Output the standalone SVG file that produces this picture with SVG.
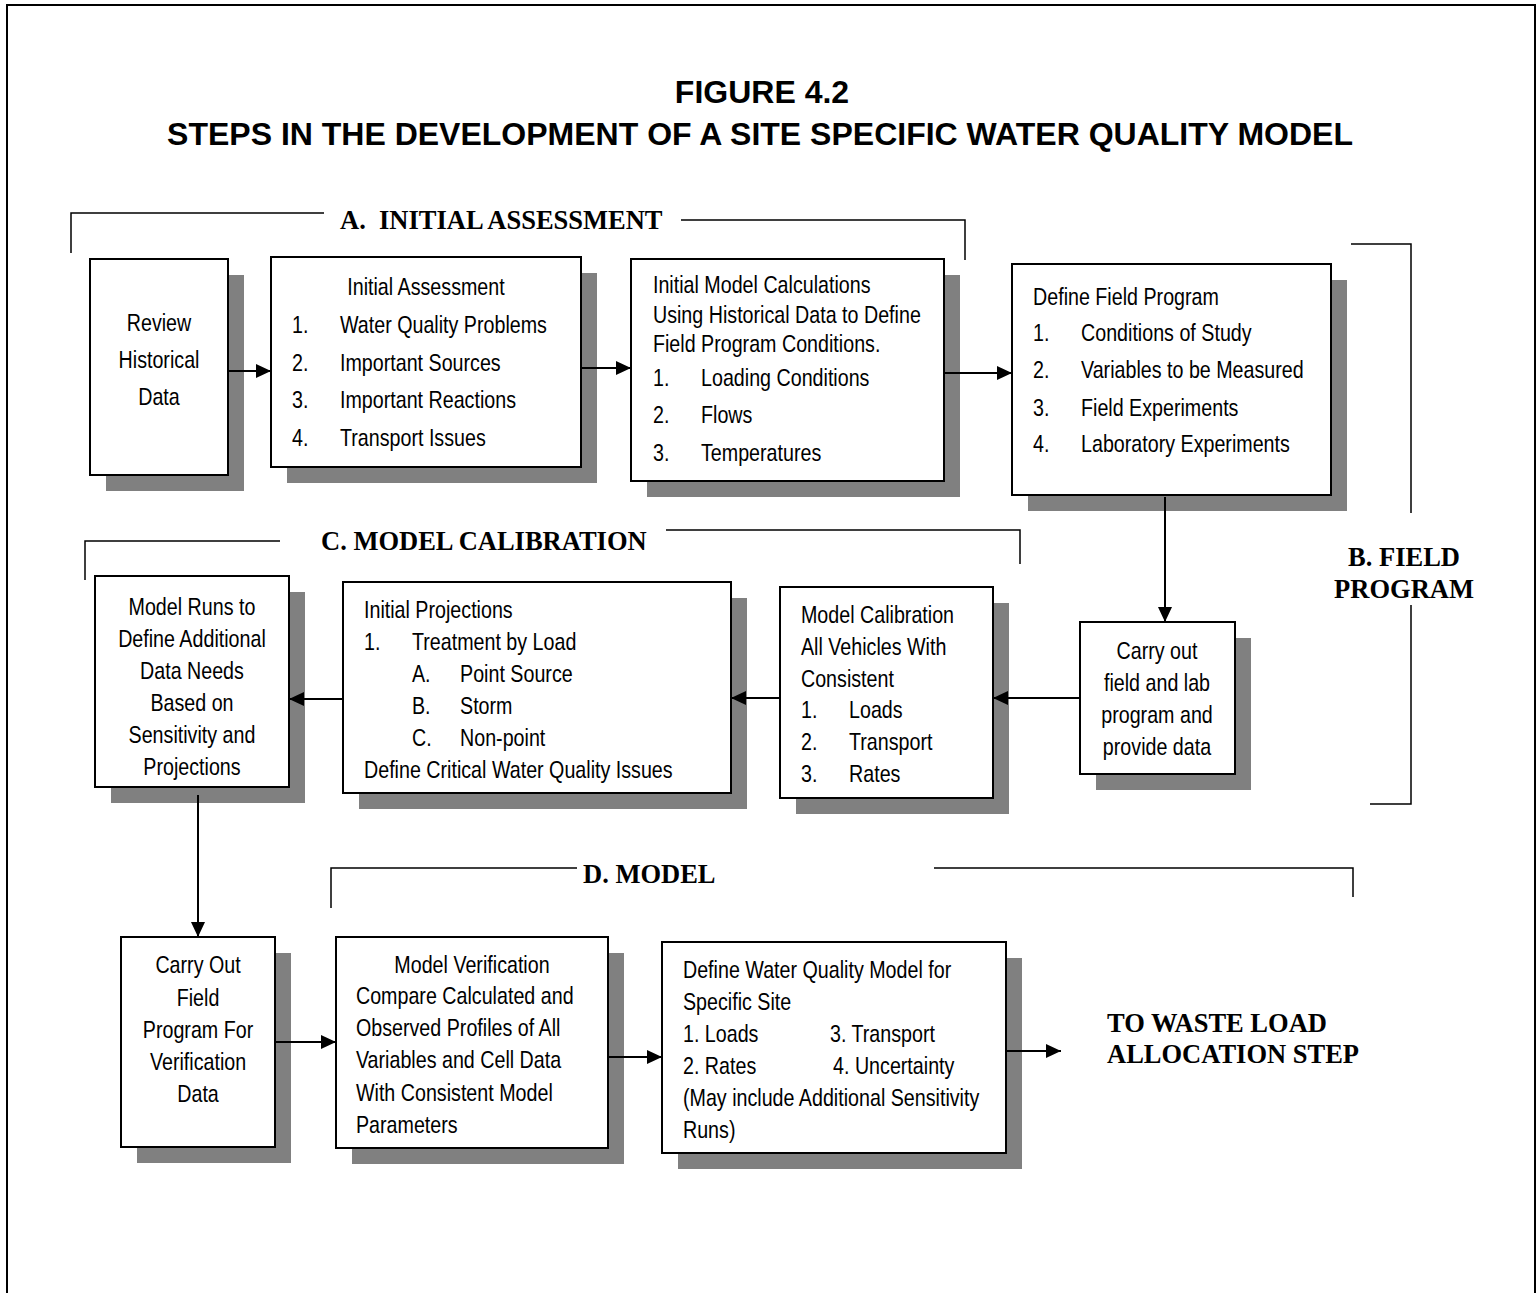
<svg xmlns="http://www.w3.org/2000/svg" width="1540" height="1293" viewBox="0 0 1540 1293">
<style>
.box{fill:#fff;stroke:#000;stroke-width:2}
.sh{fill:#808080}
.t{font-family:"Liberation Sans",Arial,sans-serif;font-size:24px;fill:#000}
.c{text-anchor:middle}
.sec{font-family:"Liberation Serif","Times New Roman",serif;font-weight:bold;font-size:26.5px;fill:#000}
.title{font-family:"Liberation Sans",Arial,sans-serif;font-weight:bold;font-size:32px;text-anchor:middle;fill:#000}
.br{fill:none;stroke:#000;stroke-width:1.5}
.conn{fill:none;stroke:#000;stroke-width:2;marker-end:url(#arr)}
</style>
<defs>
<marker id="arr" viewBox="0 0 15 14" refX="15" refY="7" markerWidth="15" markerHeight="14" markerUnits="userSpaceOnUse" orient="auto">
<path d="M0,0 L15,7 L0,14 Z" fill="#000"/>
</marker>
</defs>
<rect x="0" y="0" width="1540" height="1293" fill="#fff"/>
<rect x="7" y="5" width="1528" height="1300" fill="none" stroke="#000" stroke-width="2"/>
<g id="title">
<text class="title" x="762" y="103">FIGURE 4.2</text>
<text class="title" x="760" y="145">STEPS IN THE DEVELOPMENT OF A SITE SPECIFIC WATER QUALITY MODEL</text>
</g>
<g id="brackets">
<path class="br" d="M71,253 V213 H324 M681,220 H965 V260"/>
<path class="br" d="M85,580 V541 H280 M666,530 H1020 V564"/>
<path class="br" d="M331,908 V868 H577 M934,868 H1353 V897"/>
<path class="br" d="M1351,244 H1411 V513 M1411,605 V804 H1370"/>
</g>
<g id="section-labels">
<text class="sec" x="340" y="229" xml:space="preserve">A.  INITIAL ASSESSMENT</text>
<text class="sec c" x="1404" y="566">B. FIELD</text>
<text class="sec c" x="1404" y="598">PROGRAM</text>
<text class="sec" x="321" y="550">C. MODEL CALIBRATION</text>
<text class="sec" x="583" y="883">D. MODEL</text>
<text class="sec" x="1107" y="1032">TO WASTE LOAD</text>
<text class="sec" x="1107" y="1063">ALLOCATION STEP</text>
</g>
<g id="review">
<rect class="sh" x="106" y="275" width="138" height="216"/>
<rect class="box" x="90" y="259" width="138" height="216"/>
<g transform="scale(0.82,1)">
<text class="t c" x="193.9" y="331">Review</text>
<text class="t c" x="193.9" y="368">Historical</text>
<text class="t c" x="193.9" y="405">Data</text>
</g>
</g>
<g id="initial-assessment">
<rect class="sh" x="287" y="273" width="310" height="210"/>
<rect class="box" x="271" y="257" width="310" height="210"/>
<g transform="scale(0.82,1)">
<text class="t c" x="519.5" y="295">Initial Assessment</text>
<text class="t" x="356.1" y="333">1.</text><text class="t" x="414.6" y="333">Water Quality Problems</text>
<text class="t" x="356.1" y="371">2.</text><text class="t" x="414.6" y="371">Important Sources</text>
<text class="t" x="356.1" y="408">3.</text><text class="t" x="414.6" y="408">Important Reactions</text>
<text class="t" x="356.1" y="446">4.</text><text class="t" x="414.6" y="446">Transport Issues</text>
</g>
</g>
<g id="initial-model">
<rect class="sh" x="647" y="275" width="313" height="222"/>
<rect class="box" x="631" y="259" width="313" height="222"/>
<g transform="scale(0.82,1)">
<text class="t" x="796.3" y="293">Initial Model Calculations</text>
<text class="t" x="796.3" y="323">Using Historical Data to Define</text>
<text class="t" x="796.3" y="352">Field Program Conditions.</text>
<text class="t" x="796.3" y="386">1.</text><text class="t" x="854.9" y="386">Loading Conditions</text>
<text class="t" x="796.3" y="423">2.</text><text class="t" x="854.9" y="423">Flows</text>
<text class="t" x="796.3" y="461">3.</text><text class="t" x="854.9" y="461">Temperatures</text>
</g>
</g>
<g id="define-field">
<rect class="sh" x="1028" y="280" width="319" height="231"/>
<rect class="box" x="1012" y="264" width="319" height="231"/>
<g transform="scale(0.82,1)">
<text class="t" x="1259.8" y="305">Define Field Program</text>
<text class="t" x="1259.8" y="341">1.</text><text class="t" x="1318.3" y="341">Conditions of Study</text>
<text class="t" x="1259.8" y="378">2.</text><text class="t" x="1318.3" y="378">Variables to be Measured</text>
<text class="t" x="1259.8" y="416">3.</text><text class="t" x="1318.3" y="416">Field Experiments</text>
<text class="t" x="1259.8" y="452">4.</text><text class="t" x="1318.3" y="452">Laboratory Experiments</text>
</g>
</g>
<g id="carry-field-lab">
<rect class="sh" x="1096" y="638" width="155" height="152"/>
<rect class="box" x="1080" y="622" width="155" height="152"/>
<g transform="scale(0.82,1)">
<text class="t c" x="1411" y="659">Carry out</text>
<text class="t c" x="1411" y="691">field and lab</text>
<text class="t c" x="1411" y="723">program and</text>
<text class="t c" x="1411" y="755">provide data</text>
</g>
</g>
<g id="model-calibration">
<rect class="sh" x="796" y="603" width="213" height="211"/>
<rect class="box" x="780" y="587" width="213" height="211"/>
<g transform="scale(0.82,1)">
<text class="t" x="976.8" y="623">Model Calibration</text>
<text class="t" x="976.8" y="655">All Vehicles With</text>
<text class="t" x="976.8" y="687">Consistent</text>
<text class="t" x="976.8" y="718">1.</text><text class="t" x="1035.4" y="718">Loads</text>
<text class="t" x="976.8" y="750">2.</text><text class="t" x="1035.4" y="750">Transport</text>
<text class="t" x="976.8" y="782">3.</text><text class="t" x="1035.4" y="782">Rates</text>
</g>
</g>
<g id="initial-projections">
<rect class="sh" x="359" y="598" width="388" height="211"/>
<rect class="box" x="343" y="582" width="388" height="211"/>
<g transform="scale(0.82,1)">
<text class="t" x="443.9" y="618">Initial Projections</text>
<text class="t" x="443.9" y="650">1.</text><text class="t" x="502.4" y="650">Treatment by Load</text>
<text class="t" x="502.4" y="682">A.</text><text class="t" x="561" y="682">Point Source</text>
<text class="t" x="502.4" y="714">B.</text><text class="t" x="561" y="714">Storm</text>
<text class="t" x="502.4" y="746">C.</text><text class="t" x="561" y="746">Non-point</text>
<text class="t" x="443.9" y="778">Define Critical Water Quality Issues</text>
</g>
</g>
<g id="model-runs">
<rect class="sh" x="111" y="592" width="194" height="211"/>
<rect class="box" x="95" y="576" width="194" height="211"/>
<g transform="scale(0.82,1)">
<text class="t c" x="234.1" y="615">Model Runs to</text>
<text class="t c" x="234.1" y="647">Define Additional</text>
<text class="t c" x="234.1" y="679">Data Needs</text>
<text class="t c" x="234.1" y="711">Based on</text>
<text class="t c" x="234.1" y="743">Sensitivity and</text>
<text class="t c" x="234.1" y="775">Projections</text>
</g>
</g>
<g id="carry-out-verification">
<rect class="sh" x="137" y="953" width="154" height="210"/>
<rect class="box" x="121" y="937" width="154" height="210"/>
<g transform="scale(0.82,1)">
<text class="t c" x="241.5" y="973">Carry Out</text>
<text class="t c" x="241.5" y="1006">Field</text>
<text class="t c" x="241.5" y="1038">Program For</text>
<text class="t c" x="241.5" y="1070">Verification</text>
<text class="t c" x="241.5" y="1102">Data</text>
</g>
</g>
<g id="model-verification">
<rect class="sh" x="352" y="953" width="272" height="211"/>
<rect class="box" x="336" y="937" width="272" height="211"/>
<g transform="scale(0.82,1)">
<text class="t c" x="575.6" y="973">Model Verification</text>
<text class="t" x="434.1" y="1004">Compare Calculated and</text>
<text class="t" x="434.1" y="1036">Observed Profiles of All</text>
<text class="t" x="434.1" y="1068">Variables and Cell Data</text>
<text class="t" x="434.1" y="1101">With Consistent Model</text>
<text class="t" x="434.1" y="1133">Parameters</text>
</g>
</g>
<g id="define-wq-model">
<rect class="sh" x="678" y="958" width="344" height="211"/>
<rect class="box" x="662" y="942" width="344" height="211"/>
<g transform="scale(0.82,1)">
<text class="t" x="832.9" y="978">Define Water Quality Model for</text>
<text class="t" x="832.9" y="1010">Specific Site</text>
<text class="t" x="832.9" y="1042">1. Loads</text><text class="t" x="1012.2" y="1042">3. Transport</text>
<text class="t" x="832.9" y="1074">2. Rates</text><text class="t" x="1015.9" y="1074">4. Uncertainty</text>
<text class="t" x="832.9" y="1106">(May include Additional Sensitivity</text>
<text class="t" x="832.9" y="1138">Runs)</text>
</g>
</g>
<g id="connectors">
<path class="conn" d="M228,371 H271"/>
<path class="conn" d="M581,368 H631"/>
<path class="conn" d="M944,373 H1012"/>
<path class="conn" d="M1165,497 V622"/>
<path class="conn" d="M1080,698 H993"/>
<path class="conn" d="M780,698 H731"/>
<path class="conn" d="M343,699 H289"/>
<path class="conn" d="M198,795 V937"/>
<path class="conn" d="M275,1042 H336"/>
<path class="conn" d="M608,1057 H662"/>
<path class="conn" d="M1006,1051 H1061"/>
</g>
</svg>
